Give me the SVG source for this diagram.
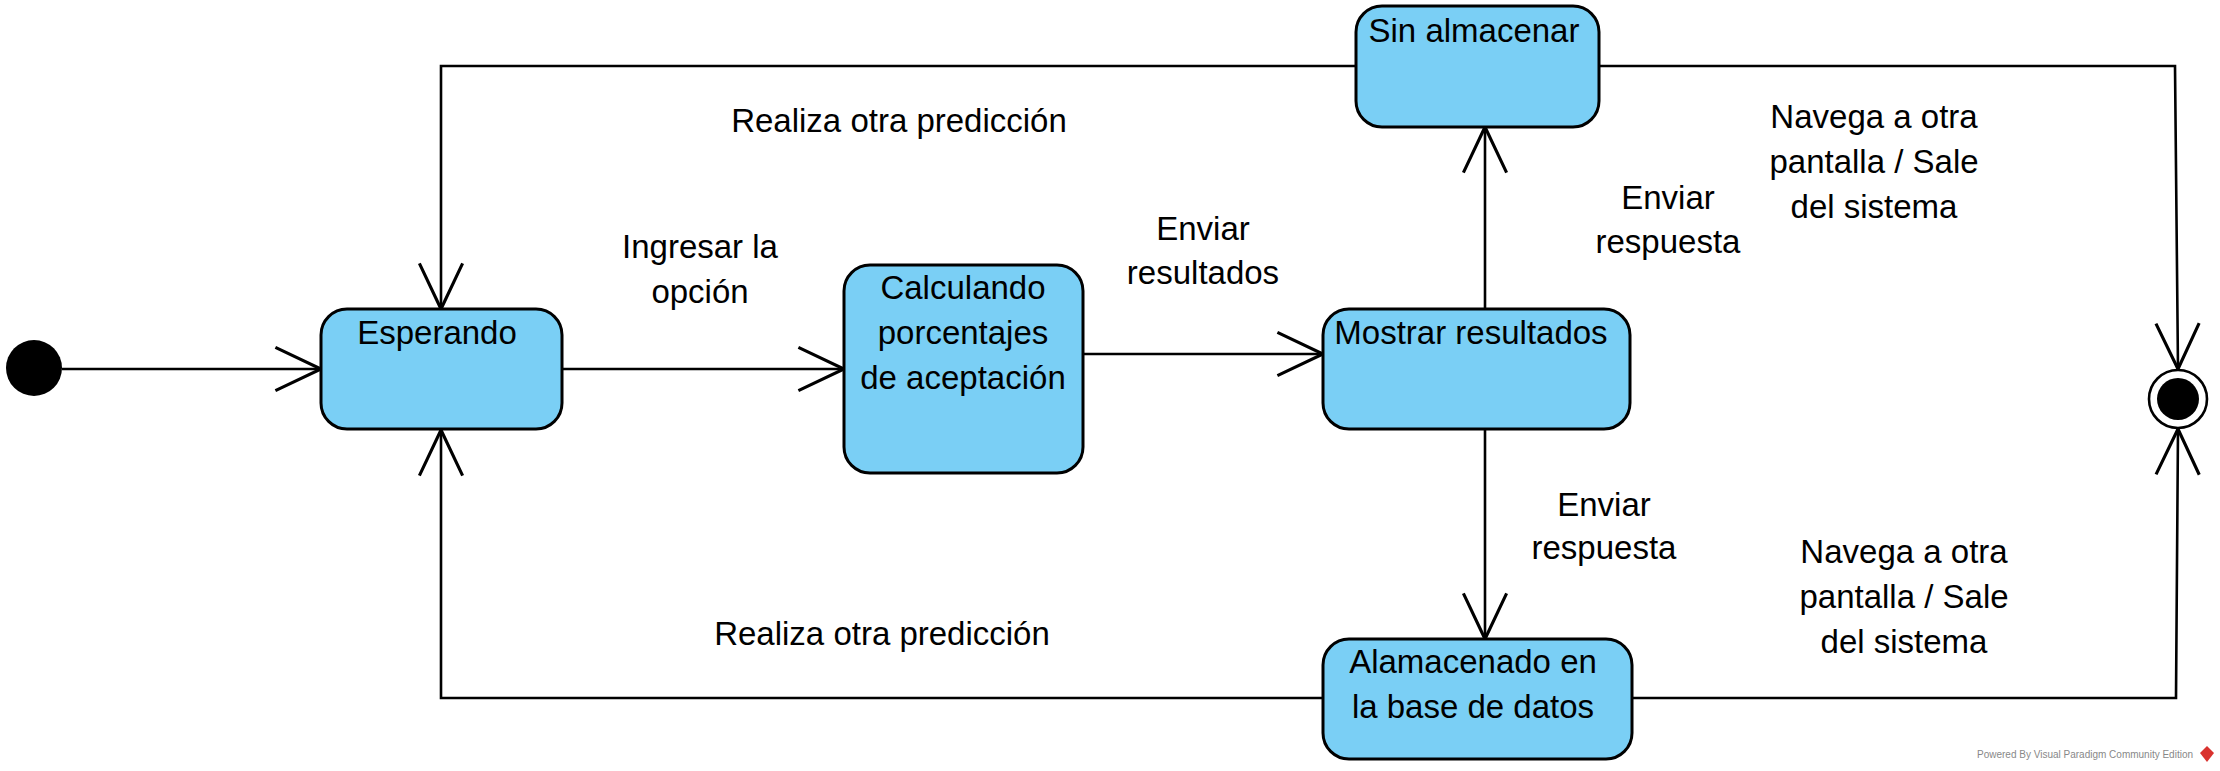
<svg xmlns="http://www.w3.org/2000/svg" width="2220" height="771" viewBox="0 0 2220 771">
  <style>
    .state { fill: #7ACFF5; stroke: #000; stroke-width: 3; }
    .lbl { font-family: "Liberation Sans", Arial, sans-serif; font-size: 33px; fill: #000; text-anchor: middle; }
    .conn { fill: none; stroke: #000; stroke-width: 2.6; }
    .wm { font-family: "Liberation Sans", Arial, sans-serif; font-size: 10px; fill: #888; }
  </style>
  <defs>
    <marker id="open" markerUnits="userSpaceOnUse" markerWidth="60" markerHeight="60" viewBox="-45 -25 50 50" refX="0" refY="0" orient="auto" overflow="visible">
      <path d="M-38,-18 L0,0 L-38,18" fill="none" stroke="#000" stroke-width="2.6"/>
    </marker>
  </defs>
  <rect width="2220" height="771" fill="#fff"/>

  <g id="connectors">
    <path class="conn" d="M62,369 L321,369" marker-end="url(#open)"/>
    <path class="conn" d="M562,369 L844,369" marker-end="url(#open)"/>
    <path class="conn" d="M1083,354 L1323,354" marker-end="url(#open)"/>
    <path class="conn" d="M1485,309 L1485,127" marker-end="url(#open)"/>
    <path class="conn" d="M1485,429 L1485,639" marker-end="url(#open)"/>
    <path class="conn" d="M1356,66 L441,66 L441,309" marker-end="url(#open)"/>
    <path class="conn" d="M1323,698 L441,698 L441,430" marker-end="url(#open)"/>
    <path class="conn" d="M1599,66 L2175,66 L2178,369" marker-end="url(#open)"/>
    <path class="conn" d="M1632,698 L2176,698 L2178,429" marker-end="url(#open)"/>
  </g>

  <g id="labels">
    <text class="lbl" x="700" y="258">Ingresar la</text>
    <text class="lbl" x="700" y="303">opción</text>
    <text class="lbl" x="1203" y="240">Enviar</text>
    <text class="lbl" x="1203" y="284">resultados</text>
    <text class="lbl" x="899" y="132">Realiza otra predicción</text>
    <text class="lbl" x="882" y="645">Realiza otra predicción</text>
    <text class="lbl" x="1668" y="209">Enviar</text>
    <text class="lbl" x="1668" y="253">respuesta</text>
    <text class="lbl" x="1604" y="516">Enviar</text>
    <text class="lbl" x="1604" y="559">respuesta</text>
    <text class="lbl" x="1874" y="128">Navega a otra</text>
    <text class="lbl" x="1874" y="173">pantalla / Sale</text>
    <text class="lbl" x="1874" y="218">del sistema</text>
    <text class="lbl" x="1904" y="563">Navega a otra</text>
    <text class="lbl" x="1904" y="608">pantalla / Sale</text>
    <text class="lbl" x="1904" y="653">del sistema</text>
  </g>

  <g id="initial">
    <circle cx="34" cy="368" r="28" fill="#000"/>
  </g>

  <g id="esperando">
    <rect class="state" x="321" y="309" width="241" height="120" rx="26" ry="26"/>
    <text class="lbl" x="437" y="344">Esperando</text>
  </g>

  <g id="calculando">
    <rect class="state" x="844" y="265" width="239" height="208" rx="26" ry="26"/>
    <text class="lbl" x="963" y="299">Calculando</text>
    <text class="lbl" x="963" y="344">porcentajes</text>
    <text class="lbl" x="963" y="389">de aceptación</text>
  </g>

  <g id="mostrar">
    <rect class="state" x="1323" y="309" width="307" height="120" rx="26" ry="26"/>
    <text class="lbl" x="1471" y="344">Mostrar resultados</text>
  </g>

  <g id="sin-almacenar">
    <rect class="state" x="1356" y="6" width="243" height="121" rx="26" ry="26"/>
    <text class="lbl" x="1474" y="42">Sin almacenar</text>
  </g>

  <g id="almacenado">
    <rect class="state" x="1323" y="639" width="309" height="120" rx="26" ry="26"/>
    <text class="lbl" x="1473" y="673">Alamacenado en</text>
    <text class="lbl" x="1473" y="718">la base de datos</text>
  </g>

  <g id="final">
    <circle cx="2178" cy="399" r="29" fill="#fff" stroke="#000" stroke-width="2.6"/>
    <circle cx="2178" cy="399" r="21" fill="#000"/>
  </g>

  <g id="watermark">
    <text class="wm" x="1977" y="758">Powered By Visual Paradigm Community Edition</text>
    <path d="M2207,746 L2214,753 L2207,762 L2200,753 Z" fill="#d9322e"/>
  </g>
</svg>
